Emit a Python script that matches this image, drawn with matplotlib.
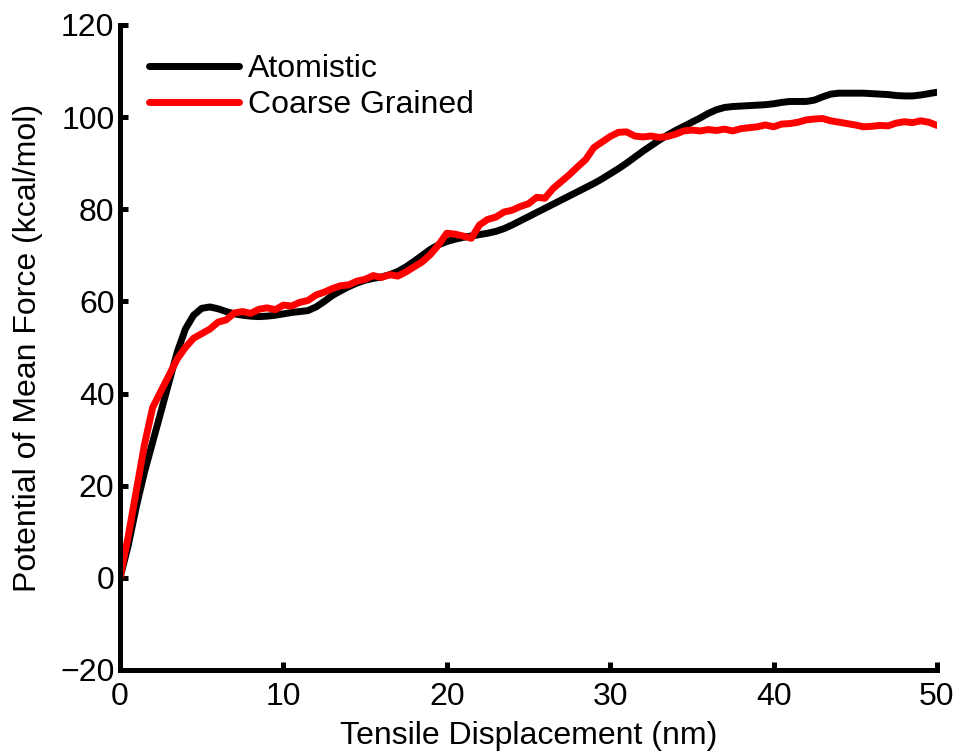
import matplotlib
matplotlib.use("Agg")
import matplotlib.pyplot as plt
import numpy as np

plt.rcParams['font.family'] = ['Liberation Sans', 'DejaVu Sans']

# Tensile displacement (nm), sampled every 0.5 nm
displacement = np.arange(0, 50.01, 0.5)

# Potential of mean force (kcal/mol), all-atom simulation
atomistic = [
    0, 7, 15.5, 23, 29.5, 36, 42.5, 49, 54, 57,
    58.5, 58.8, 58.4, 57.8, 57.3, 57, 56.8, 56.7, 56.8, 57,
    57.3, 57.6, 57.8, 58, 58.8, 60, 61.3, 62.3, 63.2, 64,
    64.6, 65, 65.3, 65.8, 66.5, 67.5, 68.7, 70, 71.3, 72.3,
    73, 73.5, 73.9, 74.2, 74.5, 74.8, 75.2, 75.8, 76.6, 77.5,
    78.4, 79.3, 80.2, 81.1, 82, 82.9, 83.8, 84.7, 85.6, 86.6,
    87.7, 88.8, 90, 91.3, 92.6, 93.8, 95, 96.1, 97.1, 98,
    98.9, 99.8, 100.8, 101.6, 102.1, 102.3, 102.4, 102.5, 102.6, 102.7,
    102.9, 103.2, 103.4, 103.4, 103.4, 103.7, 104.4, 105, 105.2, 105.2,
    105.2, 105.2, 105.1, 105, 104.9, 104.7, 104.6, 104.6, 104.8, 105.1,
    105.4,
]

# Potential of mean force (kcal/mol), coarse-grained model
coarse_grained = [
    0, 9, 19, 29, 37, 40.5, 44, 47.5, 50, 52,
    53, 54, 55.5, 56, 57.5, 57.8, 57.4, 58.3, 58.6, 58.2,
    59.2, 59.0, 59.8, 60.2, 61.4, 62.0, 62.8, 63.4, 63.6, 64.4,
    64.8, 65.6, 65.2, 65.8, 65.5, 66.4, 67.5, 68.6, 70.2, 72.3,
    74.8, 74.6, 74.2, 73.7, 76.6, 77.8, 78.3, 79.4, 79.8, 80.6,
    81.2, 82.6, 82.4, 84.5, 86.0, 87.5, 89.2, 90.8, 93.4, 94.6,
    95.8, 96.7, 96.8, 95.9, 95.7, 95.9, 95.6, 95.8, 96.3, 97.0,
    97.2, 97.0, 97.3, 97.1, 97.4, 97.0, 97.5, 97.7, 97.9, 98.3,
    97.9, 98.5, 98.6, 98.9, 99.4, 99.6, 99.7, 99.2, 98.9, 98.6,
    98.3, 97.9, 98.0, 98.2, 98.1, 98.7, 99.0, 98.8, 99.2, 98.9,
    98.2,
]

x_ticks = [0, 10, 20, 30, 40, 50]
y_ticks = [-20, 0, 20, 40, 60, 80, 100, 120]

FS = 23

fig = plt.figure(figsize=(9.61, 7.55), dpi=100)
ax = fig.add_axes([0.1249, 0.1126, 0.975 - 0.1249, 0.9669 - 0.1126])

ax.plot(displacement, atomistic, color='black', lw=5, label='Atomistic',
        solid_capstyle='round', solid_joinstyle='round')
ax.plot(displacement, coarse_grained, color='#ff0000', lw=5, label='Coarse Grained',
        solid_capstyle='round', solid_joinstyle='round')

ax.set_xlim(0, 50)
ax.set_ylim(-20, 120)
ax.set_xticks(x_ticks)
ax.set_yticks(y_ticks)
ax.set_yticklabels(['\u221220' if v < 0 else str(v) for v in y_ticks])

for side in ('top', 'right'):
    ax.spines[side].set_visible(False)
for side in ('left', 'bottom'):
    ax.spines[side].set_linewidth(3.6)
    ax.spines[side].set_capstyle('projecting')

ax.tick_params(direction='in', length=6, width=3.6, labelsize=FS)
ax.tick_params(axis='x', pad=9)
ax.tick_params(axis='y', pad=4)

ax.set_xlabel('Tensile Displacement (nm)', fontsize=FS, labelpad=6)
ax.set_ylabel('Potential of Mean Force (kcal/mol)', fontsize=FS, labelpad=12)

ax.legend(loc='upper left', frameon=False, fontsize=FS, handlelength=2.8,
          handletextpad=0.3, labelspacing=0.2, borderaxespad=0.0,
          bbox_to_anchor=(0.02, 0.975))

fig.savefig('out.png', dpi=100)
